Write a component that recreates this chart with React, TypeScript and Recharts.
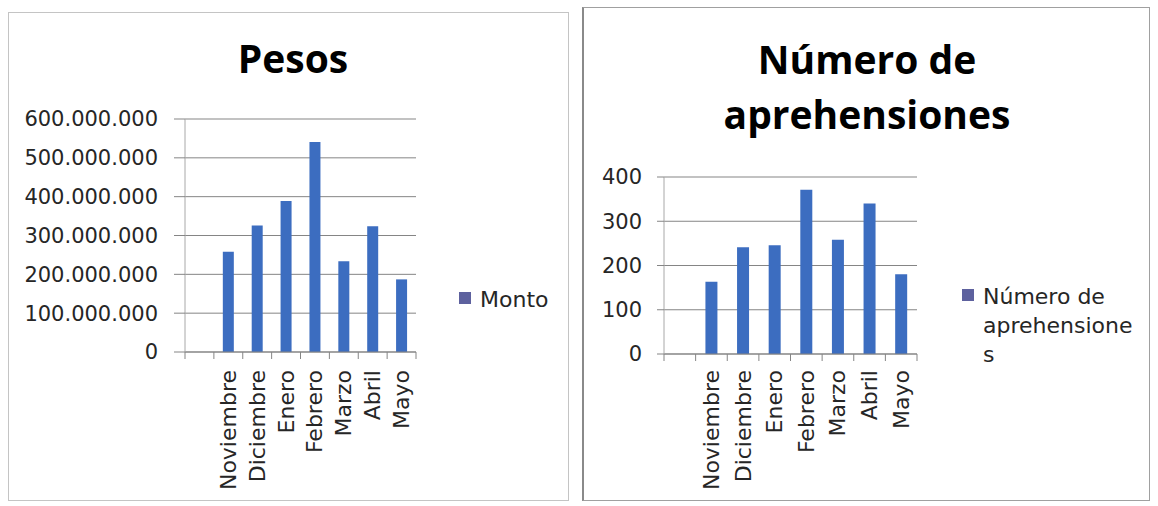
import { BarChart, Bar, XAxis, YAxis, CartesianGrid } from "recharts";

// first slot is an empty category, as in the original sheet
const categories = ["", "Noviembre", "Diciembre", "Enero", "Febrero", "Marzo", "Abril", "Mayo"];
const montoValues = [null, 258000000, 326000000, 389000000, 541000000, 234000000, 324000000, 187000000];
const aprehensionValues = [null, 163, 241, 246, 371, 258, 340, 180];
const montoTicks = [0, 100000000, 200000000, 300000000, 400000000, 500000000, 600000000];
const aprehensionTicks = [0, 100, 200, 300, 400];

const montoTitle = "Pesos";
const aprehensionTitle = ["Número de", "aprehensiones"];
const montoLegend = ["Monto"];
const aprehensionLegend = ["Número de", "aprehensione", "s"];

const BAR_COLOR = "#3c6dc0";
const LEGEND_COLOR = "#5d619e";
const GRID_COLOR = "#858585";
const AXIS_COLOR = "#a8a8a8";
const TEXT_COLOR = "#262626";
const FONT = "'DejaVu Sans', sans-serif";
const TITLE_FONT = "'Open Sans', sans-serif";

const montoData = categories.map((mes, i) => ({ mes, monto: montoValues[i] }));
const aprehensionData = categories.map((mes, i) => ({ mes, aprehensiones: aprehensionValues[i] }));

function formatPesos(v: number) {
  return String(v).replace(/\B(?=(\d{3})+(?!\d))/g, ".");
}

// eslint-disable-next-line @typescript-eslint/no-explicit-any
function CategoryTick({ x, y, payload, index, labelGap }: any) {
  const half = payload.offset ?? 0;
  const isLast = index === categories.length - 1;
  return (
    <g>
      <line x1={x - half} x2={x - half} y1={y} y2={y + 7} stroke={GRID_COLOR} />
      {isLast && <line x1={x + half} x2={x + half} y1={y} y2={y + 7} stroke={GRID_COLOR} />}
      <text
        transform={`translate(${x},${y + labelGap}) rotate(-90)`}
        textAnchor="end"
        dominantBaseline="central"
        fontFamily={FONT}
        fontSize={22}
        fill={TEXT_COLOR}
      >
        {payload.value}
      </text>
    </g>
  );
}

function LegendBox({ lines, left, top }: { lines: string[]; left: number; top: number }) {
  return (
    <div
      style={{
        position: "absolute",
        left,
        top,
        display: "flex",
        alignItems: "flex-start",
        fontFamily: FONT,
        fontSize: 22,
        lineHeight: "29px",
        color: TEXT_COLOR,
      }}
    >
      <span
        style={{
          width: 12,
          height: 12,
          background: LEGEND_COLOR,
          marginTop: 7,
          marginRight: 9,
          flex: "none",
        }}
      />
      <div>
        {lines.map((l) => (
          <div key={l}>{l}</div>
        ))}
      </div>
    </div>
  );
}

function Title({ lines, center, top, lineHeight }: { lines: string[]; center: number; top: number; lineHeight: number }) {
  return (
    <div
      style={{
        position: "absolute",
        left: center - 200,
        width: 400,
        top,
        textAlign: "center",
        fontFamily: TITLE_FONT,
        fontWeight: 700,
        fontSize: 39,
        lineHeight: `${lineHeight}px`,
        color: "#000",
      }}
    >
      {lines.map((l) => (
        <div key={l}>{l}</div>
      ))}
    </div>
  );
}

export default function App() {
  return (
    <div
      style={{
        position: "absolute",
        left: 0,
        top: 0,
        width: 1158,
        height: 506,
        background: "#fff",
        overflow: "hidden",
      }}
    >
      {/* panel frames */}
      <div style={{ position: "absolute", left: 8, top: 12, width: 559, height: 487, border: "1px solid #c4c4c4" }} />
      <div
        style={{
          position: "absolute",
          left: 582,
          top: 7,
          width: 565,
          height: 492,
          border: "1px solid #a0a0a0",
          borderLeft: "2px solid #8a8a8a",
        }}
      />

      {/* left: Pesos */}
      <div style={{ position: "absolute", left: 0, top: 0 }}>
        <BarChart
          width={580}
          height={506}
          data={montoData}
          margin={{ top: 119, right: 164, bottom: 0, left: 0 }}
          barCategoryGap="31%"
        >
          <CartesianGrid vertical={false} stroke={GRID_COLOR} />
          <XAxis
            dataKey="mes"
            height={154}
            interval={0}
            tickLine={false}
            tickSize={0}
            tickMargin={0}
            axisLine={{ stroke: GRID_COLOR }}
            tick={(props) => <CategoryTick {...props} labelGap={18} />}
          />
          <YAxis
            width={185}
            domain={[0, 600000000]}
            ticks={montoTicks}
            interval={0}
            tickFormatter={formatPesos}
            tickSize={11}
            tickMargin={16}
            tickLine={{ stroke: GRID_COLOR }}
            axisLine={{ stroke: AXIS_COLOR }}
            tick={{ fontSize: 21, fill: TEXT_COLOR, fontFamily: FONT }}
          />
          <Bar dataKey="monto" name="Monto" fill={BAR_COLOR} isAnimationActive={false} />
        </BarChart>
      </div>
      <Title lines={[montoTitle]} center={293} top={38} lineHeight={39} />
      <LegendBox lines={montoLegend} left={459} top={285} />

      {/* right: Número de aprehensiones */}
      <div style={{ position: "absolute", left: 580, top: 0 }}>
        <BarChart
          width={578}
          height={506}
          data={aprehensionData}
          margin={{ top: 177, right: 241, bottom: 0, left: 0 }}
          barCategoryGap="31%"
        >
          <CartesianGrid vertical={false} stroke={GRID_COLOR} />
          <XAxis
            dataKey="mes"
            height={152}
            interval={0}
            tickLine={false}
            tickSize={0}
            tickMargin={0}
            axisLine={{ stroke: GRID_COLOR }}
            tick={(props) => <CategoryTick {...props} labelGap={16} />}
          />
          <YAxis
            width={84}
            domain={[0, 400]}
            ticks={aprehensionTicks}
            interval={0}
            tickSize={7}
            tickMargin={15}
            tickLine={{ stroke: GRID_COLOR }}
            axisLine={{ stroke: AXIS_COLOR }}
            tick={{ fontSize: 21, fill: TEXT_COLOR, fontFamily: FONT }}
          />
          <Bar
            dataKey="aprehensiones"
            name="Número de aprehensiones"
            fill={BAR_COLOR}
            isAnimationActive={false}
          />
        </BarChart>
      </div>
      <Title lines={aprehensionTitle} center={867} top={31} lineHeight={55} />
      <LegendBox lines={aprehensionLegend} left={962} top={282} />
    </div>
  );
}
